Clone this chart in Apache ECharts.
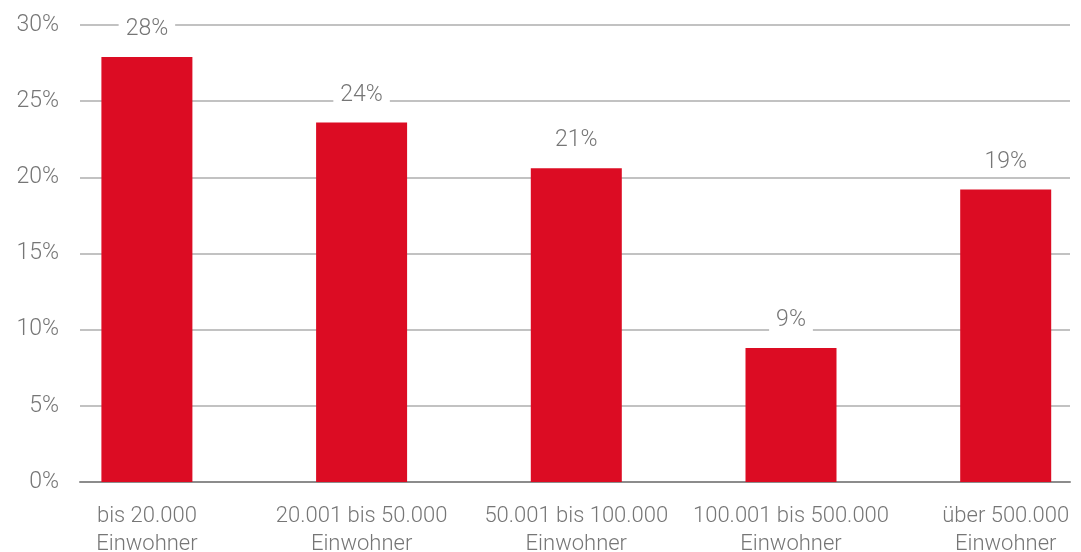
<!DOCTYPE html>
<html>
<head>
<meta charset="utf-8">
<script src="https://cdn.jsdelivr.net/npm/echarts@6/dist/echarts.min.js"></script>
<style>
html,body{margin:0;padding:0;background:#fff;}
#chart{width:1081px;height:552px;}
</style>
</head>
<body>
<div id="chart"></div>
<script>
const categories = ['bis 20.000\nEinwohner', '20.001 bis 50.000\nEinwohner', '50.001 bis 100.000\nEinwohner', '100.001 bis 500.000\nEinwohner', 'über 500.000\nEinwohner'];
const values = [27.9, 23.6, 20.6, 8.8, 19.2];
const yTicks = {min: 0, max: 30, interval: 5};

const FONT = 'Roboto, "Liberation Sans", sans-serif';
const TEXT = '#767676';

const chart = echarts.init(document.getElementById('chart'), null, {renderer: 'canvas'});
chart.setOption({
  animation: false,
  backgroundColor: '#ffffff',
  grid: [
    {left: 80, right: 11, top: 25, bottom: 70, containLabel: false, outerBoundsMode: 'none'},
    {left: 146.9, right: 75.3, top: 25, bottom: 70, containLabel: false, outerBoundsMode: 'none'}
  ],
  xAxis: [
    {
      type: 'category', gridIndex: 0, data: categories,
      axisLine: {show: true, lineStyle: {color: '#8c8c8c', width: 2}},
      axisTick: {show: false}, axisLabel: {show: false}, splitLine: {show: false}
    },
    {
      type: 'category', gridIndex: 1, data: categories, boundaryGap: false,
      axisLine: {show: false}, axisTick: {show: false},
      axisLabel: {interval: 0, fontFamily: FONT, fontWeight: 300, fontSize: 22, lineHeight: 28, color: TEXT, margin: 20}
    }
  ],
  yAxis: [
    {
      type: 'value', gridIndex: 0, min: yTicks.min, max: yTicks.max, interval: yTicks.interval,
      axisLine: {show: false}, axisTick: {show: false},
      axisLabel: {formatter: '{value}%', fontFamily: FONT, fontWeight: 300, fontSize: 23, color: TEXT, margin: 21},
      splitLine: {show: true, lineStyle: {color: '#c2c2c2', width: 2}}
    },
    {
      type: 'value', gridIndex: 1, min: yTicks.min, max: yTicks.max, interval: yTicks.interval,
      show: false, splitLine: {show: false}
    }
  ],
  series: [{
    type: 'bar', xAxisIndex: 1, yAxisIndex: 1,
    data: values,
    barWidth: 91,
    clip: false,
    itemStyle: {color: '#dc0c23'},
    label: {
      show: true, position: 'top', distance: 14,
      formatter: p => Math.round(p.value) + '%',
      fontFamily: FONT, fontWeight: 300, fontSize: 23, color: TEXT,
      backgroundColor: '#ffffff', padding: [2, 7]
    }
  }]
});
</script>
</body>
</html>
